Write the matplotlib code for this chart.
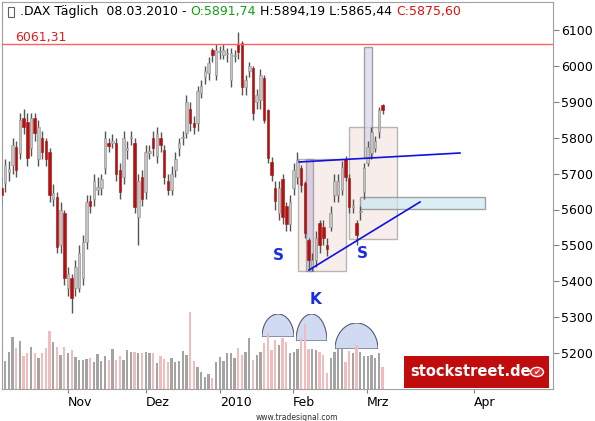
import matplotlib
matplotlib.use("Agg")
import matplotlib.pyplot as plt
from matplotlib.patches import Rectangle, Wedge, Circle

opens = [5660,5674,5705,5724,5775,5757,5855,5845,5770,5855,
         5740,5800,5790,5760,5630,5635,5500,5590,5380,5410,
         5380,5380,5410,5510,5625,5630,5655,5660,5715,5785,
         5786,5785,5710,5690,5766,5800,5785,5580,5690,5650,
         5758,5800,5750,5800,5765,5680,5655,5710,5770,5798,
         5813,5880,5840,5840,5925,5970,5980,6045,5975,6038,
         6030,6033,5960,6028,6060,6065,5940,5985,5995,5900,
         5905,5965,5877,5732,5660,5590,5685,5610,5560,5660,
         5690,5715,5674,5515,5440,5460,5562,5550,5500,5550,
         5640,5640,5655,5740,5688,5608,5562,5593,5650,5730,
         5757,5770,5815,5892]
closes = [5640,5724,5712,5780,5710,5850,5830,5743,5855,5813,
          5830,5760,5740,5640,5645,5495,5600,5410,5420,5353,
          5440,5480,5510,5620,5610,5680,5662,5685,5800,5778,
          5792,5700,5650,5800,5770,5803,5607,5680,5630,5760,
          5762,5770,5810,5780,5690,5655,5700,5740,5785,5802,
          5900,5840,5830,5930,5945,5985,6008,6030,6045,6042,
          6045,6036,6035,6031,6040,5940,5960,6000,5870,5920,
          5975,5850,5743,5696,5625,5660,5580,5560,5620,5710,
          5738,5668,5535,5460,5460,5520,5500,5520,5490,5590,
          5680,5680,5718,5690,5607,5612,5530,5597,5715,5775,
          5815,5790,5877,5876]
highs = [5690,5740,5735,5800,5790,5870,5880,5870,5870,5870,
         5850,5820,5800,5770,5670,5650,5620,5600,5440,5420,
         5460,5500,5530,5640,5640,5700,5690,5700,5820,5800,
         5810,5800,5730,5820,5790,5820,5800,5700,5710,5780,
         5780,5820,5830,5815,5780,5700,5720,5760,5800,5820,
         5920,5900,5860,5945,5960,6000,6025,6050,6060,6055,
         6060,6050,6050,6045,6094,6070,5975,6010,6000,5935,
         5990,5975,5880,5745,5680,5680,5700,5620,5640,5730,
         5760,5725,5680,5520,5480,5540,5570,5570,5520,5610,
         5700,5700,5735,5750,5700,5630,5570,5610,5730,5790,
         5830,5805,5885,5894]
lows = [5610,5650,5680,5700,5690,5740,5810,5720,5750,5790,
        5720,5740,5720,5620,5610,5480,5480,5390,5360,5312,
        5360,5370,5390,5490,5590,5610,5640,5640,5700,5760,
        5770,5680,5630,5670,5740,5780,5590,5500,5610,5630,
        5740,5750,5730,5760,5670,5640,5640,5690,5750,5780,
        5800,5820,5810,5820,5910,5950,5960,6010,5960,6020,
        6020,6010,5940,6010,6020,5920,5920,5970,5850,5880,
        5880,5840,5730,5680,5600,5570,5560,5540,5540,5640,
        5670,5650,5520,5432,5430,5440,5480,5500,5470,5540,
        5620,5620,5640,5680,5590,5590,5500,5570,5630,5720,
        5740,5760,5800,5865]
volumes = [37,28,37,52,41,48,33,36,42,36,
           31,36,41,58,47,42,34,42,36,39,
           32,29,29,30,31,27,35,28,33,29,
           40,29,33,29,39,37,37,36,36,37,
           36,36,26,33,30,27,31,27,28,38,
           34,77,28,22,17,12,15,11,27,32,
           28,36,36,31,41,34,37,51,29,34,
           37,46,56,39,49,44,51,47,36,37,
           40,51,65,40,40,39,37,34,16,31,
           37,40,40,27,38,36,44,37,33,33,
           34,31,36,22]
tick_pos = [18, 39.1, 59.1, 78.8, 98.8, 127.7]
tick_labels = ["Nov", "Dez", "2010", "Feb", "Mrz", "Apr"]
price_ticks = [5200,5300,5400,5500,5600,5700,5800,5900,6000,6100]
resistance = 6061.31

W, H = 595, 421
fig = plt.figure(figsize=(W/100, H/100), dpi=100)
fig.patch.set_facecolor("white")
L, R, B, T = 2, 553, 389, 2
ax = fig.add_axes([L/W, (H-B)/H, (R-L)/W, (B-T)/H])
vax = ax.twinx()
ax.set_zorder(2); ax.patch.set_visible(False)
vax.set_zorder(1)

def px2i(x): return (x-1.4)/3.7
def py2p(y): return 6100-(y-30)/0.359

ax.set_xlim(px2i(L), px2i(R))
ax.set_ylim(py2p(B), py2p(T))
vax.set_ylim(0, B-T)

RED = "#b01212"; GREY = "#c4c4c4"; WICK = "#555555"; PINK = "#f0bcbc"
for i, (o, c, h, l) in enumerate(zip(opens, closes, highs, lows)):
    down = c < o
    ax.vlines(i, l, h, color=WICK, lw=1.0, zorder=3)
    lo, hi = min(o, c), max(o, c)
    if hi - lo < 3: hi = lo + 3
    ax.add_patch(Rectangle((i-0.33, lo), 0.66, hi-lo, facecolor=RED if down else GREY,
                           edgecolor=RED if down else "#909090", lw=0.4, zorder=4))
for i, v in enumerate(volumes):
    down = closes[i] < opens[i]
    vax.bar(i, v, width=0.6, color=PINK if down else "#a4a4a4", zorder=1)
vax.set_yticks([])

ax.axhline(resistance, color="#ff6060", lw=1, zorder=5)
ax.text(px2i(15), py2p(38), "6061,31", color="#e02020", fontsize=9, va="center", zorder=6)

def box(x0, y0, x1, y1, fc, ec="#808080", a=0.55, z=2.5):
    ax.add_patch(Rectangle((px2i(x0), py2p(y1)), px2i(x1)-px2i(x0), py2p(y0)-py2p(y1),
                           facecolor=fc, edgecolor=ec, lw=1, alpha=a, zorder=z))
box(298, 159, 346, 271, "#f2e0dc")
box(306, 159, 313, 271, "#c8b8dc", a=0.6)
box(349, 127, 397, 239, "#f2e0dc")
box(364, 47, 372, 158, "#d8d4ec", a=0.7)
box(360, 197, 485, 209, "#cce8f0", a=0.7)

ax.plot([px2i(299), px2i(460)], [py2p(162), py2p(153)], color="#1010e0", lw=1.2, zorder=6)
ax.plot([px2i(309), px2i(420)], [py2p(270), py2p(202)], color="#1010e0", lw=1.2, zorder=6)
for x, y, s in [(278, 256, "S"), (362, 253, "S"), (315, 299, "K")]:
    ax.text(px2i(x), py2p(y), s, color="#1a2ee0", fontsize=11, fontweight="bold",
            ha="center", va="center", zorder=6)

for x0, x1, yb, yt in [(262, 294, 337, 314), (296, 327, 341, 314), (335, 378, 349, 323)]:
    ov = fig.add_axes([x0/W, (H-yb)/H, (x1-x0)/W, (yb-yt)/H])
    ov.set_xlim(-1, 1); ov.set_ylim(0, 1); ov.axis("off")
    ov.add_patch(Wedge((0, 0), 1, 0, 180, facecolor="#c8d4f0", edgecolor="#404060", lw=0.8, alpha=0.85))

ax.set_xticks(tick_pos)
ax.set_xticklabels(tick_labels, ha="left", fontsize=9)
ax.tick_params(axis="x", length=3, color="#808080", pad=2)
ax.yaxis.tick_right()
ax.set_yticks(price_ticks)
ax.set_yticklabels([str(p) for p in price_ticks], fontsize=9)
ax.tick_params(axis="y", length=4, color="#808080", pad=2)
for s in ["top", "right", "left", "bottom"]:
    ax.spines[s].set_color("#a0a0a0"); vax.spines[s].set_visible(False)

parts = [(".DAX Täglich  08.03.2010 - ", "black"), ("O:5891,74", "#10a010"),
         (" H:5894,19 L:5865,44 ", "black"), ("C:5875,60", "#e01010")]
xx = 20
for txt, col in parts:
    t = fig.text(xx/W, 1-12/H, txt, color=col, fontsize=9, va="center")
    fig.canvas.draw()
    xx += t.get_window_extent().width
fig.add_artist(Rectangle((8/W, 1-17/H), 6/W, 10/H, transform=fig.transFigure,
                         facecolor="white", edgecolor="#606060", lw=0.8))

fig.add_artist(Rectangle((404/W, (H-388)/H), 145/W, 32/H, transform=fig.transFigure,
                         facecolor="#c00c0c", edgecolor="none", zorder=10))
fig.text(410/W, 1-372/H, "stockstreet.de", color="white", fontsize=10.5, va="center",
         zorder=11, fontweight="bold")
fig.add_artist(Circle((537/W, 1-372/H), 6.5/W, transform=fig.transFigure,
                      facecolor="#e03030", edgecolor="white", lw=1, zorder=11))
fig.text(537/W, 1-372/H, "✔", color="white", fontsize=6, ha="center", va="center", zorder=12)
fig.text(297/W, 1-417/H, "www.tradesignal.com", fontsize=5.5, ha="center", va="center", color="#303030")

fig.savefig("out.png", dpi=100)
